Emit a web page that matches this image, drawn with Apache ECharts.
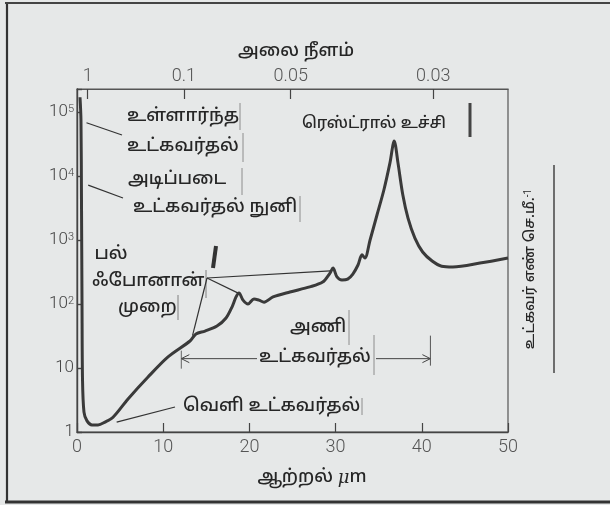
<!DOCTYPE html>
<html><head><meta charset="utf-8">
<script src="https://cdn.jsdelivr.net/npm/echarts@6/dist/echarts.min.js"></script>
<style>html,body{margin:0;padding:0;background:#e6e8e8;}#c{width:610px;height:505px;}</style>
</head><body><div id="c"></div>
<script>
// Photon energy (meV) and absorption coefficient (cm^-1)
const energy = [0.35,0.46,0.52,0.58,0.64,0.81,1.16,1.74,2.44,3.25,4.18,5.92,8.24,10.56,13.11,13.8,14.85,16.24,17.29,17.98,18.45,18.79,19.26,19.84,20.53,21.1,21.7,22.74,24.7,27.0,28.5,29.35,29.7,30.16,30.74,31.4,32.0,32.6,33.06,33.4,34.0,34.8,35.6,36.3,36.8,37.24,37.8,38.4,39.2,40.1,41.2,42.3,43.6,46.75,50];
const absorption = [170000,75000,4250,115,6.5,2.05,1.49,1.29,1.29,1.43,1.70,3.28,7.23,14.9,26.4,34,37.8,45.3,60.4,89.7,129,149,115,100,120,115,107,129,154,185,220,305,365,265,237,245,294,407,586,524,1000,2460,6050,15900,35300,15900,5050,2200,1070,650,470,390,380,436,525];
const xTicks = [0,10,20,30,40,50];
const yMin = 1, yMax = 229000;
const wavelengths = [1, 0.1, 0.05, 0.03];           // mm
const wavelengthLabels = ['1','0.1','0.05','0.03'];
const HC = 1.2398;                                   // meV*mm
const wavelengthEnergy = wavelengths.map(l => HC / l);

const NUM = 'Roboto, "DejaVu Sans", sans-serif';
const TA = '"Noto Sans Tamil","Lohit Tamil","Noto Sans","DejaVu Sans",sans-serif';
const INK = '#262626';

const chart = echarts.init(document.getElementById('c'), null, {renderer:'canvas'});
chart.setOption({
  backgroundColor: '#e6e8e8',
  animation: false,
  grid: {left:77, right:102, top:89, bottom:73, show:true, borderColor:'#555', borderWidth:1.2, backgroundColor:'transparent'},
  xAxis: [{
    type:'value', min:0, max:50, interval:10, position:'bottom',
    axisLine:{show:true, lineStyle:{color:'#444', width:1.4}},
    axisTick:{show:true, inside:true, length:9, lineStyle:{color:'#444', width:1.2}},
    axisLabel:{color:'#555', fontFamily:NUM, fontWeight:300, fontSize:18, margin:6,
      formatter: v => xTicks.indexOf(v) >= 0 ? String(v) : ''},
    splitLine:{show:false}
  },{
    type:'value', min:0, max:50, position:'top',
    axisLine:{show:true, lineStyle:{color:'#555', width:1.2}},
    axisTick:{show:true, inside:true, length:10, customValues: wavelengthEnergy, lineStyle:{color:'#444', width:1.2}},
    axisLabel:{show:true, color:'#555', fontFamily:NUM, fontWeight:300, fontSize:18, margin:4,
      customValues: wavelengthEnergy,
      formatter: v => { const i = wavelengthEnergy.findIndex(e => Math.abs(e - v) < 1e-6); return i >= 0 ? wavelengthLabels[i] : ''; }},
    splitLine:{show:false}
  }],
  yAxis: [{
    type:'log', logBase:10, min:yMin, max:yMax,
    axisLine:{show:true, lineStyle:{color:'#444', width:1.4}},
    axisTick:{show:true, inside:true, length:5, lineStyle:{color:'#444', width:1.4}},
    axisLabel:{color:'#444', fontFamily:NUM, fontWeight:300, fontSize:17, margin:3,
      formatter: v => {
        const l = Math.log10(v), e = Math.round(l);
        if (Math.abs(l - e) > 1e-6) return '';
        if (e === 0) return '1';
        if (e === 1) return '10';
        return '10{s|' + e + '}';
      },
      rich:{s:{fontSize:11, fontFamily:NUM, color:'#444', verticalAlign:'top', lineHeight:12}}
    },
    splitLine:{show:false}
  }],
  series: [{
    type:'line', xAxisIndex:0, yAxisIndex:0,
    data: energy.map((e,i) => [e, absorption[i]]),
    showSymbol:false, smooth:0.3, clip:true,
    lineStyle:{color:'#3a3a3a', width:3}
  }]
});

// ---------- annotations ----------
const P = (x,y) => chart.convertToPixel({xAxisIndex:0, yAxisIndex:0}, [x,y]);
const g = [];
function txt(x,y,text,opt){ g.push(Object.assign({type:'text', x, y, z:10, style:Object.assign({text, fill:INK, fontFamily:TA, fontSize:18, fontWeight:500, align:'left', verticalAlign:'middle'}, (opt&&opt.style)||{})}, opt&&opt.rotation!==undefined?{rotation:opt.rotation}:{})); }
function ln(x1,y1,x2,y2,w,c){ g.push({type:'line', z:9, shape:{x1,y1,x2,y2}, style:{stroke:c||'#444', lineWidth:w||1}}); }
function lnTo(x1,y1,pt,w){ ln(x1,y1,pt[0],pt[1],w||1.2,'#333'); }

// frame
ln(7,3,7,503,2.2,'#333'); ln(5,3,610,3,2,'#444'); ln(5,502,610,502,3,'#333');

// titles
txt(296,52,'அலை நீளம்',{style:{align:'center', fontSize:18}});
txt(312,478,'ஆற்றல் {i|μ}m',{style:{align:'center', fontSize:18, rich:{i:{fontStyle:'italic', fontFamily:'"DejaVu Serif",serif', fontSize:18, fill:INK}}}});
txt(531,269,'உட்கவர் எண் செ.மீ.{s|-1}',{rotation:Math.PI/2, style:{align:'center', fontSize:14.5, rich:{s:{fontSize:10, verticalAlign:'top', fill:INK, fontFamily:NUM}}}});
ln(554,165,554,373,1.5,'#444');

// intrinsic absorption
txt(127,117,'உள்ளார்ந்த'); txt(127,147,'உட்கவர்தல்');
ln(240,103,240,130,0.8,'#777'); ln(243,133,243,162,0.8,'#777');
lnTo(122,135,P(1.1,68000));
// fundamental absorption edge
txt(128,180,'அடிப்படை'); txt(133,208,'உட்கவர்தல் நுனி');
ln(242,168,242,195,0.8,'#777'); ln(300,196,300,222,0.8,'#777');
lnTo(123,198,P(1.3,7200));
// multi-phonon
txt(111,255,'பல்',{style:{align:'center'}}); txt(92,282,'ஃபோனான்'); txt(118,308,'முறை');
ln(206,270,206,298,0.8,'#666'); ln(178,295,178,320,0.8,'#666');
lnTo(207,278,P(29.4,330)); lnTo(207,278,P(18.7,148)); lnTo(207,278,P(13.4,32));
ln(216,246,213,268,4,'#333');
// lattice absorption
txt(290,328,'அணி'); txt(259,358,'உட்கவர்தல்');
ln(349,310,349,345,0.8,'#777'); ln(374,335,374,375,0.8,'#777');
const aL = P(12.1,14), aR = P(41,14);
ln(aL[0],aL[1],257,aL[1],1,'#444'); ln(376,aR[1],aR[0],aR[1],1,'#444');
g.push({type:'polyline', z:9, shape:{points:[[aL[0]+8,aL[1]-4],[aL[0],aL[1]],[aL[0]+8,aL[1]+4]]}, style:{stroke:'#444', lineWidth:1, fill:null}});
g.push({type:'polyline', z:9, shape:{points:[[aR[0]-8,aR[1]-4],[aR[0],aR[1]],[aR[0]-8,aR[1]+4]]}, style:{stroke:'#444', lineWidth:1, fill:null}});
ln(aL[0],aL[1]-8,aL[0],aL[1]+10,0.9,'#555'); ln(aR[0],aR[1]-23,aR[0],aR[1]+7,1,'#555');
// external absorption
txt(183,407,'வெளி உட்கவர்தல்');
ln(362,398,362,415,0.8,'#777');
lnTo(175,407,P(4.6,1.43));
// reststrahl
txt(302,125,'ரெஸ்ட்ரால் உச்சி',{style:{fontSize:16}});
ln(470,103,470,137,3,'#444');

chart.setOption({graphic:g});
</script></body></html>
